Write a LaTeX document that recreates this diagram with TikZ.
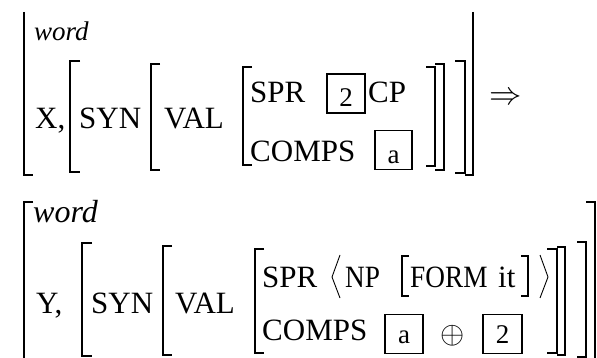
\documentclass[tikz,border=0pt]{standalone}
\usepackage{graphicx}
\usepackage{fontspec}
\setmainfont{Liberation Serif}
\newfontfamily\condfont[FakeStretch=0.88]{Liberation Serif}
\begin{document}
\begin{tikzpicture}[x=1pt,y=-1pt,
  br/.style={line width=1.2pt},
  ang/.style={line width=0.9pt},
  txt/.style={inner sep=0pt, anchor=base west, font=\fontsize{31}{31}\selectfont},
  sml/.style={inner sep=0pt, anchor=base west, font=\fontsize{31}{31}\condfont},
  itl/.style={inner sep=0pt, anchor=base west},
  tag/.style={draw, line width=1.1pt, minimum width=37pt, minimum height=39pt, inner sep=0pt, text depth=0pt, font=\fontsize{27}{27}\selectfont}]
\useasboundingbox (0,0) rectangle (597,358);
% ---------- top structure ----------
\node[itl, font=\fontsize{27}{27}\selectfont\itshape] (w1) at (34,41) {word};
\node[txt] (x1) at (35,129) {X,};
\node[txt] (syn1) at (79,129) {SYN};
\node[txt] (val1) at (164,129) {VAL};
\node[txt] (spr1) at (250,103) {SPR};
\node[tag, text height=26pt, minimum width=38pt] (t2a) at (346,93.5) {2};
\node[txt] (cp1) at (368,103) {CP};
\node[txt] (comps1) at (250,162) {COMPS};
\node[tag, text height=27pt] (ta1) at (393.5,150) {a};
\node[inner sep=0pt, font=\fontsize{24.88}{25}\selectfont] (arr) at (506,99) {\scalebox{1.3}{$\Rightarrow$}};
% brackets top
\draw[br] (24,12) -- (24,175) -- (33,175);
\draw[br] (80,61) -- (70,61) -- (70,172) -- (80,172);
\draw[br] (160,64) -- (151,64) -- (151,170) -- (160,170);
\draw[br] (252,67) -- (243,67) -- (243,165) -- (252,165);
\draw[br] (426,67) -- (435,67) -- (435,166) -- (426,166);
\draw[br] (435,64) -- (444,64) -- (444,170) -- (435,170);
\draw[br] (455,61) -- (465,61) -- (465,173) -- (455,173);
\draw[br] (473,12) -- (473,175) -- (465,175);
% ---------- bottom structure ----------
\node[itl, font=\fontsize{32}{32}\selectfont\itshape] (w2) at (33,223) {word};
\node[txt] (y2) at (36,313) {Y,};
\node[txt] (syn2) at (91,313) {SYN};
\node[txt] (val2) at (175,313) {VAL};
\node[txt] (spr2) at (262,287) {SPR};
\node[sml] (np2) at (345,287) {NP};
\node[sml] (form2) at (410,287) {FORM};
\node[txt] (it2) at (498,287) {it};
\node[txt] (comps2) at (262,340) {COMPS};
\node[tag, text height=18pt, minimum width=38pt] (ta2) at (404,334) {a};
\node[inner sep=0pt, font=\fontsize{24.88}{25}\selectfont] (oplus) at (453,336) {\scalebox{1.25}{$\oplus$}};
\node[tag, text height=18pt, minimum width=39pt] (t22) at (502.5,334) {2};
% angle brackets and small square brackets
\draw[ang] (340,255) -- (332,277) -- (340,298);
\draw[ang] (540,255) -- (548,277) -- (540,298);
\draw[br] (409,256) -- (402,256) -- (402,296) -- (409,296);
\draw[br] (521,256) -- (528,256) -- (528,296) -- (521,296);
% brackets bottom
\draw[br] (33,202) -- (24,202) -- (24,360);
\draw[br] (92,243) -- (82,243) -- (82,356) -- (92,356);
\draw[br] (172,246) -- (163,246) -- (163,355) -- (172,355);
\draw[br] (264,249) -- (255,249) -- (255,353) -- (264,353);
\draw[br] (547,249) -- (557,249) -- (557,353) -- (547,353);
\draw[br] (557,247) -- (565,247) -- (565,355) -- (557,355);
\draw[br] (577,242) -- (586,242) -- (586,357) -- (577,357);
\draw[br] (586,202) -- (595,202) -- (595,360);
\end{tikzpicture}
\end{document}
